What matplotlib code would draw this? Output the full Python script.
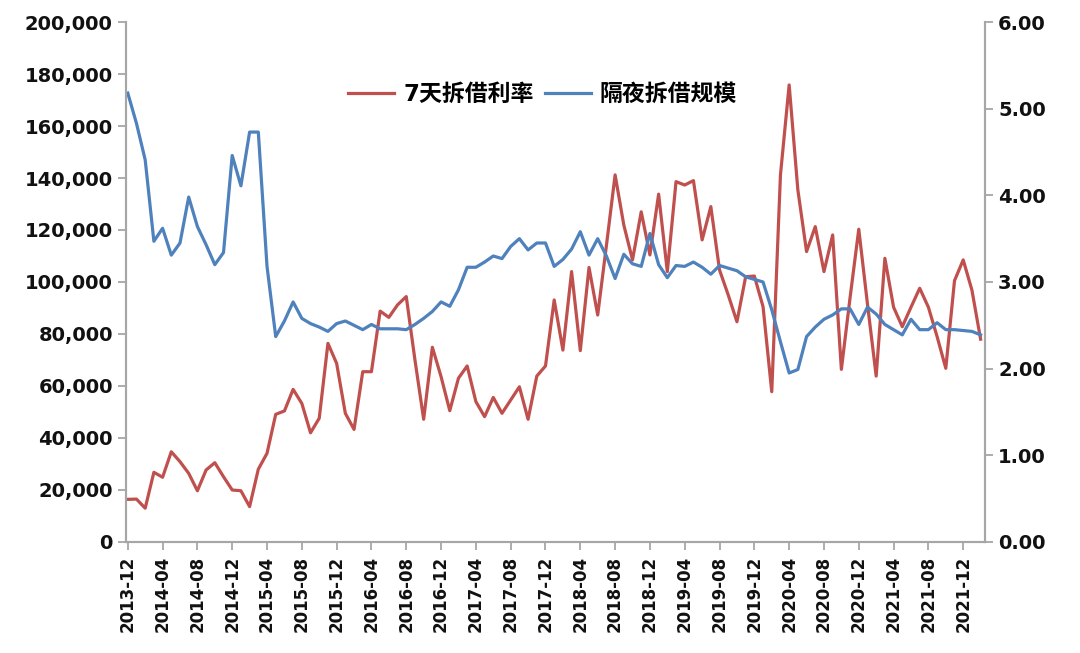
import numpy as np
import pandas as pd
import matplotlib
matplotlib.use('Agg')
import matplotlib.pyplot as plt

##
## Data (monthly, 2013-12 .. 2022-02)
##
months = pd.date_range('2013-12-01', '2022-02-01', freq='MS')

# red line, left axis
rate_7d = [16400, 16500, 13000, 26800, 24900, 34700, 30900, 26400, 19700, 27700,
           30500, 25100, 20000, 19700, 13600, 28000, 34100, 49100, 50400, 58700,
           53300, 42000, 47600, 76400, 68700, 49500, 43300, 65500, 65500, 88800,
           86400, 91200, 94400, 70000, 47200, 74900, 63600, 50500, 63000, 67700,
           54000, 48200, 55600, 49500, 54600, 59700, 47200, 63800, 67700, 93100,
           73800, 104000, 73600, 105600, 87300, 114000, 141200, 121900, 108500, 127000,
           110400, 133800, 104000, 138600, 137300, 139000, 116200, 129000, 104600, 95000,
           84700, 102000, 102300, 90500, 57800, 141200, 175800, 135400, 111700, 121300,
           104000, 118100, 66400, 94000, 120300, 91500, 63800, 109100, 90300, 82800,
           90300, 97600, 90300, 79000, 66800, 100500, 108500, 96900, 78000]

# blue line, right axis
overnight = [5.18, 4.83, 4.41, 3.47, 3.62, 3.31, 3.45, 3.98, 3.64, 3.43,
             3.20, 3.34, 4.46, 4.11, 4.73, 4.73, 3.18, 2.37, 2.55, 2.77,
             2.58, 2.52, 2.48, 2.43, 2.52, 2.55, 2.50, 2.45, 2.51, 2.46,
             2.46, 2.46, 2.45, 2.51, 2.58, 2.66, 2.77, 2.72, 2.91, 3.17,
             3.17, 3.23, 3.30, 3.27, 3.41, 3.50, 3.37, 3.45, 3.45, 3.18,
             3.26, 3.38, 3.58, 3.31, 3.50, 3.30, 3.04, 3.32, 3.21, 3.18,
             3.56, 3.20, 3.05, 3.19, 3.18, 3.23, 3.17, 3.09, 3.19, 3.16,
             3.13, 3.06, 3.03, 3.00, 2.68, 2.31, 1.95, 1.99, 2.37, 2.48,
             2.57, 2.62, 2.69, 2.69, 2.51, 2.71, 2.63, 2.51, 2.45, 2.39,
             2.57, 2.45, 2.45, 2.53, 2.45, 2.45, 2.44, 2.43, 2.39]

labels = [d.strftime('%Y-%m') for d in months]
x = np.arange(len(months))

red = '#C0504D'
blue = '#4F81BD'
grey = '#A6A6A6'

plt.rcParams['font.family'] = ['DejaVu Sans', 'Noto Sans CJK SC']
plt.rcParams['font.weight'] = 'bold'

fig = plt.figure(figsize=(10.8, 6.53), dpi=100)
ax = fig.add_axes([0.1167, 0.170, 0.7953, 0.7963])
ax2 = ax.twinx()

l1, = ax.plot(x, rate_7d, color=red, lw=2.3, label='7天拆借利率')
l2, = ax2.plot(x, overnight, color=blue, lw=2.3, label='隔夜拆借规模')

ax.set_xlim(-0.2, 98.5)
ax.set_ylim(0, 200000)
ax2.set_ylim(0, 6)
ax.set_yticks(np.arange(0, 200001, 20000))
ax.set_yticklabels(['{:,}'.format(v) for v in range(0, 200001, 20000)])
ax2.set_yticks(np.arange(0, 6.01, 1))
ax2.set_yticklabels(['{:.2f}'.format(v) for v in np.arange(0, 6.01, 1)])
ax.set_xticks(x[::4])
ax.set_xticklabels(labels[::4], rotation=90, fontsize=12, fontweight='bold')

for a in (ax, ax2):
    a.spines['top'].set_visible(False)
    for s in ('left', 'right', 'bottom'):
        a.spines[s].set_color(grey)
        a.spines[s].set_linewidth(1.5)
    a.tick_params(colors=grey, width=1.3, length=6, labelcolor='#111111')
ax.tick_params(axis='y', labelsize=14)
ax2.tick_params(axis='y', labelsize=14)
ax.tick_params(axis='x', pad=4)

leg = ax.legend(handles=[l1, l2], loc='center', bbox_to_anchor=(0.485, 0.86),
                ncol=2, frameon=False, handlelength=2.0, columnspacing=0.5,
                handletextpad=0.4, prop={'family': ['DejaVu Sans', 'Noto Sans CJK SC'],
                                         'weight': 'bold', 'size': 16.5})

fig.savefig('out.png', dpi=100)
